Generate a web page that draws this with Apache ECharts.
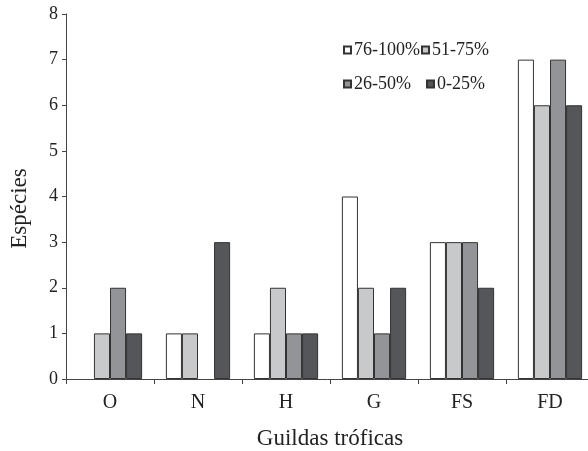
<!DOCTYPE html>
<html>
<head>
<meta charset="utf-8">
<script src="https://cdn.jsdelivr.net/npm/echarts@6/dist/echarts.min.js"></script>
<style>
html,body{margin:0;padding:0;background:#fff;}
#c{width:588px;height:451px;}
</style>
</head>
<body>
<div id="c"></div>
<script>
const categories = ['O', 'N', 'H', 'G', 'FS', 'FD'];
const seriesNames = ['76-100%', '51-75%', '26-50%', '0-25%'];
const s76_100 = [0, 1, 1, 4, 3, 7];
const s51_75 = [1, 1, 2, 2, 3, 6];
const s26_50 = [2, 0, 1, 1, 3, 7];
const s0_25 = [1, 3, 1, 2, 2, 6];
const yTicks = [0, 1, 2, 3, 4, 5, 6, 7, 8];

const values = [s76_100, s51_75, s26_50, s0_25];
const colors = ['#ffffff', '#c8c9cb', '#939497', '#55565a'];
const FONT = '"Liberation Serif", "Times New Roman", serif';

const chart = echarts.init(document.getElementById('c'), null, {renderer: 'canvas'});
chart.setOption({
  animation: false,
  backgroundColor: '#ffffff',
  textStyle: {fontFamily: FONT, color: '#222'},
  grid: {left: 66, top: 14, width: 528, height: 365, containLabel: false, outerBoundsMode: 'none'},
  legend: [
    {
      data: [seriesNames[0], seriesNames[1]],
      left: 338, top: 36,
      orient: 'horizontal',
      icon: 'rect', itemWidth: 7, itemHeight: 7, itemGap: 1,
      textStyle: {fontFamily: FONT, fontSize: 18, color: '#222', padding: [0, 0, 0, -2]}
    },
    {
      data: [seriesNames[2], seriesNames[3]],
      left: 338, top: 70,
      orient: 'horizontal',
      icon: 'rect', itemWidth: 7, itemHeight: 7, itemGap: 15,
      textStyle: {fontFamily: FONT, fontSize: 18, color: '#222', padding: [0, 0, 0, -2]}
    }
  ],
  xAxis: {
    type: 'category',
    data: categories,
    name: 'Guildas tróficas',
    nameLocation: 'middle',
    nameGap: 48,
    nameTextStyle: {fontFamily: FONT, fontSize: 23, color: '#222'},
    axisLine: {show: true, lineStyle: {color: '#444', width: 1}},
    axisTick: {show: true, inside: false, length: 5, lineStyle: {color: '#444'}},
    axisLabel: {fontFamily: FONT, fontSize: 20, color: '#222', margin: 14},
    splitLine: {show: false}
  },
  yAxis: {
    type: 'value',
    min: yTicks[0],
    max: yTicks[yTicks.length - 1],
    interval: 1,
    name: 'Espécies',
    nameLocation: 'middle',
    nameGap: 35,
    nameRotate: 90,
    nameTextStyle: {fontFamily: FONT, fontSize: 23, color: '#222', padding: [0, 24, 0, 0]},
    axisLine: {show: true, lineStyle: {color: '#444', width: 1}},
    axisTick: {show: true, inside: false, length: 4, lineStyle: {color: '#444'}},
    axisLabel: {fontFamily: FONT, fontSize: 18, color: '#222', margin: 8},
    splitLine: {show: false}
  },
  series: seriesNames.map((name, i) => ({
    name: name,
    type: 'bar',
    data: values[i].map(v => v === 0 ? {value: v, itemStyle: {borderWidth: 0}} : v),
    barGap: '0%',
    barCategoryGap: '27%',
    itemStyle: {color: colors[i], borderColor: '#333', borderWidth: 1}
  }))
});
</script>
</body>
</html>
